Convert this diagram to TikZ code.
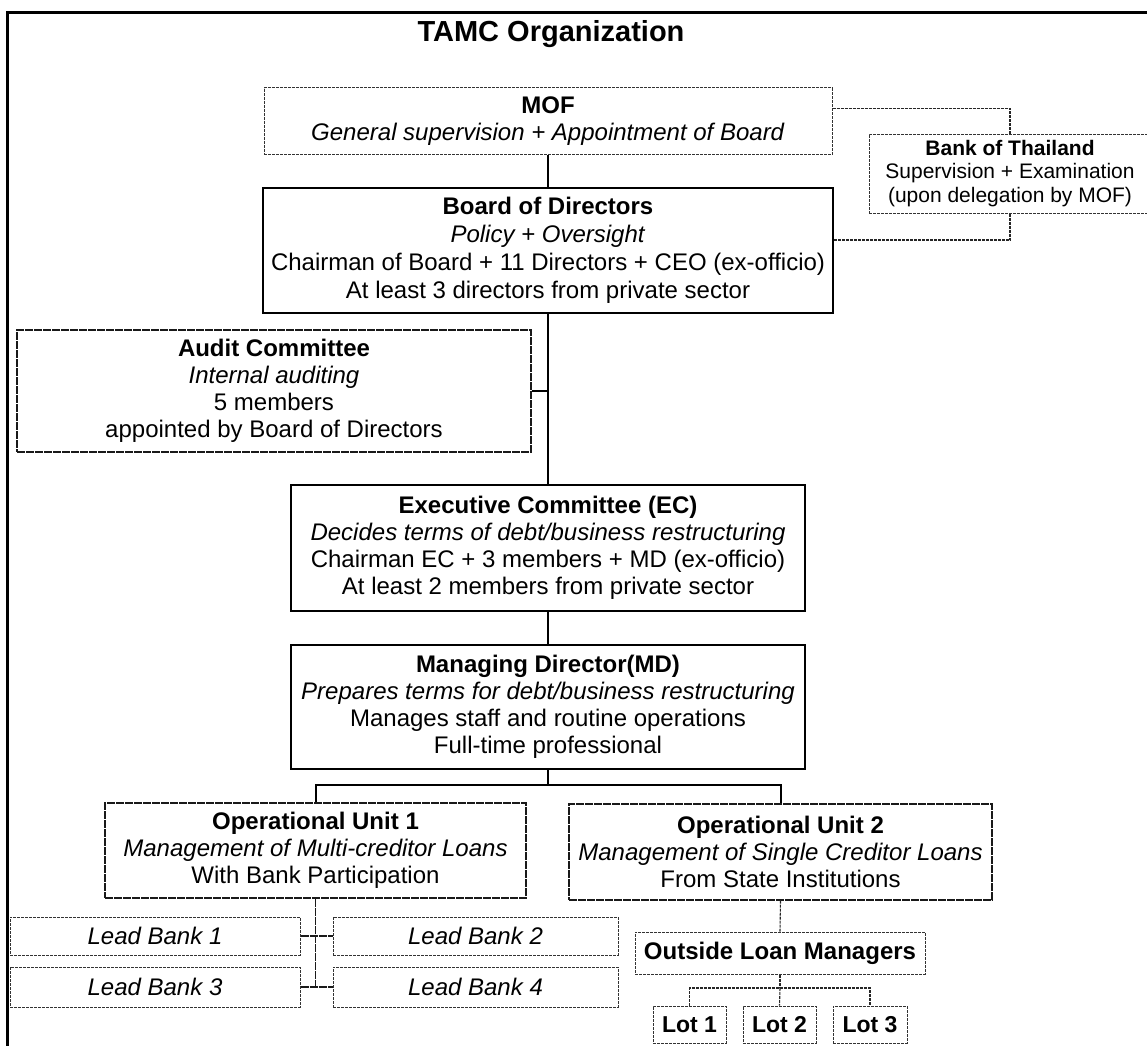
\documentclass[tikz,border=0pt]{standalone}
\usepackage{fontspec}
\setmainfont{Liberation Sans}
\tikzset{
  basebox/.style={rectangle, inner sep=0pt, align=center, fill=white,
    font=\fontsize{24}{27}\selectfont},
  thinbox/.style={basebox, draw=black!80, line width=1pt, dash pattern=on 3pt off 1pt},
  midbox/.style={basebox, draw=black!90, line width=1.4pt, dash pattern=on 8pt off 1pt},
  thickbox/.style={basebox, draw=black, line width=2.6pt},
  conn/.style={draw=black, line width=2pt},
  thinconn/.style={draw=black, line width=1.3pt},
  dotconn/.style={draw=black!85, line width=1.1pt, dash pattern=on 3pt off 1pt},
  midconn/.style={draw=black!90, line width=1.4pt, dash pattern=on 8pt off 1pt}
}
\begin{document}
\begin{tikzpicture}[x=1pt,y=-1pt]
\useasboundingbox (0,0) rectangle (1147,1045);
\clip (0,0) rectangle (1147,1045);
\fill[white] (0,0) rectangle (1147,1045);
\draw[line width=3pt] (7.5,1060) -- (7.5,12) -- (1160,12);

\node[font=\bfseries\fontsize{29}{34}\selectfont] (title) at (551,34) {TAMC Organization};

\node[thinbox, minimum width=568pt, minimum height=67pt] (mof) at (548,121)
  {\textbf{MOF}\\\textit{General supervision + Appointment of Board}};
\node[thinbox, minimum width=282pt, minimum height=79pt, font=\fontsize{21}{23.5}\selectfont] (bot) at (1010,173.5)
  {\textbf{Bank of Thailand}\\Supervision + Examination\\(upon delegation by MOF)};
\node[thickbox, minimum width=570pt, minimum height=125pt, font=\fontsize{24}{28}\selectfont] (board) at (548,250.5)
  {\textbf{Board of Directors}\\\textit{Policy + Oversight}\\Chairman of Board + 11 Directors + CEO (ex-officio)\\At least 3 directors from private sector};
\node[midbox, minimum width=514pt, minimum height=122pt] (audit) at (274,391)
  {\textbf{Audit Committee}\\\textit{Internal auditing}\\5 members\\appointed by Board of Directors};
\node[thickbox, minimum width=514pt, minimum height=126pt] (ec) at (548,548)
  {\textbf{Executive Committee (EC)}\\\textit{Decides terms of debt/business restructuring}\\Chairman EC + 3 members + MD (ex-officio)\\At least 2 members from private sector};
\node[thickbox, minimum width=514pt, minimum height=124pt] (md) at (548,707)
  {\textbf{Managing Director(MD)}\\\textit{Prepares terms for debt/business restructuring}\\Manages staff and routine operations\\Full-time professional};
\node[midbox, minimum width=421pt, minimum height=95pt] (ou1) at (315.5,850.5)
  {\textbf{Operational Unit 1}\\\textit{Management of Multi-creditor Loans}\\With Bank Participation};
\node[midbox, minimum width=423pt, minimum height=96pt] (ou2) at (780.5,852)
  {\textbf{Operational Unit 2}\\\textit{Management of Single Creditor Loans}\\From State Institutions};

\node[thinbox, minimum width=290pt, minimum height=38pt] (lb1) at (155,936) {\textit{Lead Bank 1}};
\node[thinbox, minimum width=285pt, minimum height=38pt] (lb2) at (475.5,936) {\textit{Lead Bank 2}};
\node[thinbox, minimum width=290pt, minimum height=40pt] (lb3) at (155,987) {\textit{Lead Bank 3}};
\node[thinbox, minimum width=285pt, minimum height=40pt] (lb4) at (475.5,987) {\textit{Lead Bank 4}};

\node[thinbox, minimum width=290pt, minimum height=42pt, font=\bfseries\fontsize{24}{27}\selectfont] (olm) at (780,953) {Outside Loan Managers};
\node[thinbox, minimum width=73pt, minimum height=37pt, font=\bfseries\fontsize{23}{27}\selectfont] (lot1) at (689.5,1024.5) {Lot 1};
\node[thinbox, minimum width=73pt, minimum height=37pt, font=\bfseries\fontsize{23}{27}\selectfont] (lot2) at (779.5,1024.5) {Lot 2};
\node[thinbox, minimum width=74pt, minimum height=37pt, font=\bfseries\fontsize{23}{27}\selectfont] (lot3) at (870,1024.5) {Lot 3};

% connectors
\draw[conn] (mof.south) -- (board.north);
\draw[dotconn] ([yshift=12.5pt]mof.east) -| (bot.north);
\draw[dotconn] (bot.south) |- ([yshift=10.5pt]board.east);
\draw[conn] (board.south) -- (ec.north);
\coordinate (auditj) at (548,391);
\draw[thinconn] (audit.east) -- (auditj);
\draw[conn] (ec.south) -- (md.north);
\coordinate (bus) at (548,785);
\draw[conn] (md.south) -- (bus);
\draw[conn] (ou1.north) |- (bus) -| (ou2.north);
\coordinate (lbj) at (315.5,987);
\draw[midconn] (ou1.south) -- (lbj);
\draw[midconn] (lb1.east) -- (lb2.west);
\draw[midconn] (lb3.east) -- (lb4.west);
\draw[dotconn] (ou2.south) -- (olm.north);
\coordinate (lotbus) at (780,988);
\draw[dotconn] (olm.south) -- (lotbus);
\draw[dotconn] (lot1.north) |- (lotbus) -| (lot3.north);
\draw[dotconn] (lotbus) -- (lot2.north);
\end{tikzpicture}
\end{document}
